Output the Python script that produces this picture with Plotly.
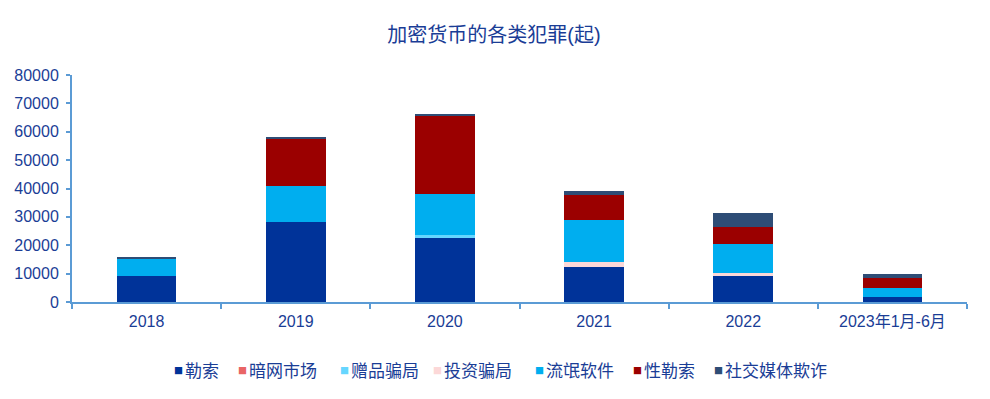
import plotly.graph_objects as go

categories = ["2018", "2019", "2020", "2021", "2022", "2023年1月-6月"]
series_names = ["勒索", "暗网市场", "赠品骗局", "投资骗局", "流氓软件", "性勒索", "社交媒体欺诈"]
ransom = [9300, 28300, 22600, 12400, 9200, 1900]
darknet = [0, 0, 0, 0, 0, 0]
giveaway = [0, 0, 1000, 0, 0, 0]
invest = [0, 0, 0, 1800, 1100, 0]
rogue = [6200, 12700, 14500, 14800, 10200, 3100]
sextortion = [0, 16500, 27300, 8800, 6000, 3300]
social = [300, 350, 950, 1400, 4900, 1400]
y_ticks = [0, 10000, 20000, 30000, 40000, 50000, 60000, 70000, 80000]

colors = ["#003399", "#e96565", "#66d6ff", "#fcd8d8", "#00aeef", "#9b0000", "#2e4d76"]
values = [ransom, darknet, giveaway, invest, rogue, sextortion, social]

# legend entry start positions (figure px, where the colour key sits)
legend_key_x = [166, 230, 332, 425, 527, 625, 706]

axis_col = "#5b9bd5"
txt_col = "#1a3d96"
font_fam = "Liberation Sans, Arial, Noto Sans CJK SC, sans-serif"

W, H = 982, 391
ML, MT, MR, MB = 64, 67, 23, 97
PW = W - ML - MR

fig = go.Figure()
for name, vals, col in zip(series_names, values, colors):
    fig.add_trace(go.Bar(x=categories, y=vals, name=name, marker_color=col,
                         marker_line_width=0, legendgroup=name, showlegend=False))

legend_layouts = {}
for i, (name, col) in enumerate(zip(series_names, colors)):
    lname = "legend" if i == 0 else f"legend{i + 1}"
    label = (f"<span style='color:{col};font-size:9px;font-family:Noto Sans CJK SC;"
             f"baseline-shift:3px'>■ </span>{name}")
    fig.add_trace(go.Scatter(x=[None], y=[None], mode="markers", name=label,
                             marker=dict(symbol="square", size=1, color="rgba(0,0,0,0)"),
                             legendgroup=name, showlegend=True, legend=lname))
    legend_layouts[lname] = dict(
        orientation="h", x=(legend_key_x[i] - 40 - ML) / PW, xanchor="left",
        y=-0.304, yanchor="middle", font=dict(size=17, color=txt_col),
        itemwidth=30, bgcolor="rgba(0,0,0,0)")

fig.update_layout(
    width=W, height=H,
    barmode="stack", bargap=0.6,
    plot_bgcolor="white", paper_bgcolor="white",
    margin=dict(l=ML, r=MR, t=MT, b=MB, autoexpand=False),
    font=dict(family=font_fam, color=txt_col, size=16),
    title=dict(text="加密货币的各类犯罪(起)", x=486 / W, xanchor="center",
               y=1 - 27 / H, yanchor="middle", yref="container",
               font=dict(size=20, color=txt_col)),
    xaxis=dict(type="category", showline=True, linecolor=axis_col, linewidth=2,
               ticks="outside", tickson="boundaries", ticklen=5, tickcolor=axis_col,
               tickwidth=2, showgrid=False, ticklabelstandoff=4,
               tickfont=dict(size=16, color=txt_col)),
    yaxis=dict(range=[0, 80000], tickvals=y_ticks, showline=True, linecolor=axis_col,
               linewidth=2, ticks="outside", ticklen=4, tickcolor=axis_col, tickwidth=2,
               showgrid=False, zeroline=False, tickformat="d", ticklabelstandoff=4,
               tickfont=dict(size=16, color=txt_col)),
    **legend_layouts,
)

fig.write_html("out.html")
